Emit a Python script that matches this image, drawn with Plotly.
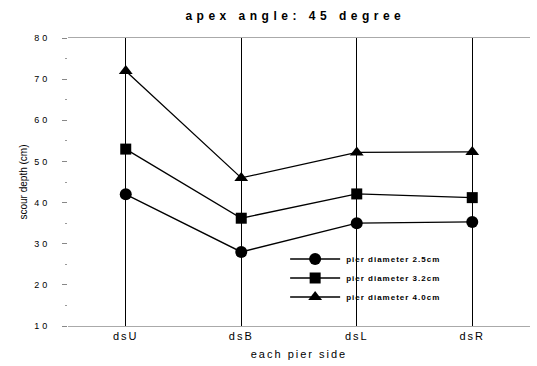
import plotly.graph_objects as go

sides = ["dsU", "dsB", "dsL", "dsR"]
d25 = [42, 28, 35, 35.3]
d32 = [53, 36.2, 42.1, 41.2]
d40 = [72, 46, 52.2, 52.3]
names = ["pier diameter 2.5cm", "pier diameter 3.2cm", "pier diameter 4.0cm"]
y_ticks = [10, 20, 30, 40, 50, 60, 70, 80]

fig = go.Figure()
for vals, name, sym, sz in [(d25, names[0], "circle", 12),
                            (d32, names[1], "square", 11),
                            (d40, names[2], "triangle-up", 12)]:
    fig.add_trace(go.Scatter(x=sides, y=vals, name=name, mode="lines+markers",
                             line=dict(color="black", width=1.3),
                             marker=dict(symbol=sym, size=sz, color="black")))

fig.update_layout(
    width=537, height=366,
    margin=dict(l=68, r=7, t=38, b=40),
    paper_bgcolor="white", plot_bgcolor="white",
    font=dict(family="Liberation Sans, Arial", color="black"),
    title=dict(text="<b>apex angle: 45 degree</b>", x=0.55, xanchor="center",
               y=0.958, yanchor="middle", font=dict(size=12)),
    showlegend=True,
    legend=dict(x=0.47, y=0.283, xanchor="left", yanchor="top",
                bgcolor="rgba(0,0,0,0)", font=dict(size=8, color="black", weight="bold"),
                itemwidth=50, tracegroupgap=0),
)
fig.update_xaxes(
    type="category", range=[-0.5, 3.5],
    showgrid=True, gridcolor="black", gridwidth=1,
    showline=True, mirror=True, linecolor="#aaaaaa", linewidth=1,
    ticks="", tickfont=dict(size=11),
    title=dict(text="each pier side", font=dict(size=11), standoff=9),
    zeroline=False,
)
fig.update_yaxes(
    range=[10, 80], tickvals=y_ticks, showgrid=False, zeroline=False,
    ticks="outside", ticklen=5, tickcolor="#888888", ticklabelstandoff=10,
    tickfont=dict(size=9),
    minor=dict(ticks="outside", ticklen=2, tickcolor="#999999", dtick=5),
    title=dict(text="scour depth (cm)", font=dict(size=10), standoff=10),
)

post = """
var gd = document.getElementsByClassName('plotly-graph-div')[0];
function sp(){
  var t = gd.querySelector('.gtitle'); if(t){t.style.letterSpacing='4.5px';}
  var xt = gd.querySelector('.xtitle'); if(xt){xt.style.letterSpacing='2px';}
  gd.querySelectorAll('.xtick text').forEach(function(e){e.style.letterSpacing='2px';});
  gd.querySelectorAll('.ytick text').forEach(function(e){e.style.letterSpacing='3px';});
  gd.querySelectorAll('.legend .scrollbox').forEach(function(e){e.removeAttribute('clip-path');});
  gd.querySelectorAll('.legendtext').forEach(function(e){e.style.letterSpacing='1px';
    e.setAttribute('x', '61');});
}
sp();
gd.on('plotly_afterplot', sp);
"""
fig.write_html("out.html", post_script=post)
